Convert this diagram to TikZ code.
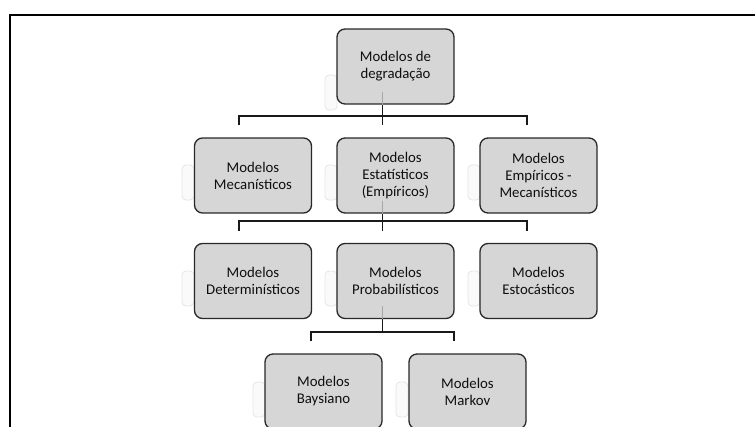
\documentclass[tikz,border=0pt]{standalone}
\usepackage{fontspec}
\setmainfont{Carlito}
\definecolor{boxfill}{RGB}{214,214,214}
\definecolor{boxline}{RGB}{40,40,40}
\definecolor{txt}{RGB}{15,15,15}
\begin{document}
\begin{tikzpicture}[x=1pt,y=-1pt,
  mbox/.style={draw=boxline, line width=1.3pt, fill=boxfill, rounded corners=8pt,
    minimum width=117pt, minimum height=75pt, inner sep=2pt, align=center,
    font=\fontsize{14.8}{17}\selectfont, text=txt},
  conn/.style={draw=black!90, line width=1.5pt},
  ghost/.style={draw=black!10, fill=black!2, line width=0.8pt, rounded corners=4pt},
  faint/.style={draw=black!35, line width=1pt},
  frame/.style={draw=black, line width=2pt}]
\useasboundingbox (0,0) rectangle (755,426);
% outer frame (top and left only visible)
\draw[frame] (755,15) -- (10,15) -- (10,427);

% ghost reflections
\foreach \gx/\gy in {325/75, 182/165, 325/165, 468/165, 182/271, 325/271, 468/271, 253/382, 396/382}{
  \path[ghost] (\gx,\gy) rectangle ++(12,35);
}

% nodes
\node[mbox] (top)  at (395.5,66.5) {Modelos de\\degradação};
\node[mbox] (mec)  at (253,175.5)  {Modelos\\Mecanísticos};
\node[mbox] (est)  at (395.5,175.5) {Modelos\\Estatísticos\\(Empíricos)};
\node[mbox] (emp)  at (538.5,175.5) {Modelos\\Empíricos -\\Mecanísticos};
\node[mbox] (det)  at (253,281)    {Modelos\\Determinísticos};
\node[mbox] (prob) at (395.5,281)  {Modelos\\Probabilísticos};
\node[mbox] (esto) at (538.5,281)  {Modelos\\Estocásticos};
\node[mbox] (bay)  at (323.5,391.5) {Modelos\\Baysiano};
\node[mbox] (mar)  at (467.5,391.5) {Modelos\\Markov};

% faint connector traces inside parent boxes
\draw[faint] ([xshift=-13pt,yshift=13pt]top.south) -- ([xshift=-13pt]top.south);
\draw[faint] ([xshift=-13pt,yshift=13pt]est.south) -- ([xshift=-13pt]est.south);
\draw[faint] ([xshift=-13pt,yshift=13pt]prob.south) -- ([xshift=-13pt]prob.south);

% bus coordinates
\coordinate (bus1) at (382.5,116);
\coordinate (bus2) at (382.5,221);
\coordinate (bus3) at (382.5,332);

% level 1 -> 2
\draw[conn] ([xshift=-13pt]top.south) -- ([xshift=-13pt,yshift=12pt]est.north);
\draw[conn] ([xshift=-14pt,yshift=12pt]mec.north) |- (bus1) -| ([xshift=-11.5pt,yshift=12pt]emp.north);

% level 2 -> 3
\draw[conn] ([xshift=-13pt]est.south) -- ([xshift=-13pt,yshift=12pt]prob.north);
\draw[conn] ([xshift=-14pt,yshift=12pt]det.north) |- (bus2) -| ([xshift=-11.5pt,yshift=12pt]esto.north);

% level 3 -> 4
\draw[conn] ([xshift=-13pt]prob.south) -- (bus3);
\draw[conn] ([xshift=-12.5pt,yshift=12pt]bay.north) |- (bus3) -| ([xshift=-13.5pt,yshift=12pt]mar.north);
\end{tikzpicture}
\end{document}
